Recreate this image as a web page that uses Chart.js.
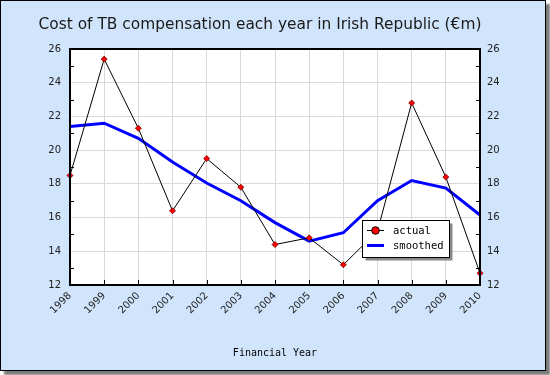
<!DOCTYPE html>
<html>
<head>
<meta charset="utf-8">
<script src="https://cdn.jsdelivr.net/npm/chart.js@4.4.0/dist/chart.umd.min.js"></script>
<style>
    body { margin: 0; background: #ffffff; }
    #frame {
        position: absolute; left: 0; top: 0;
        width: 544px; height: 369px;
        border: 1px solid #000;
        background: #d0e4fc;
        box-shadow: 4px 4px 2px #7a7a7a;
    }
    #wrap { position: absolute; left: 0; top: 0; width: 550px; height: 375px; }
</style>
</head>
<body>
<div id="frame"></div>
<div id="wrap"><canvas id="tbChart" width="550" height="375"></canvas></div>
<script>
// Data
const years = ['1998', '1999', '2000', '2001', '2002', '2003', '2004', '2005', '2006', '2007', '2008', '2009', '2010'];
const actual = [18.5, 25.4, 21.3, 16.4, 19.5, 17.8, 14.4, 14.8, 13.2, 15.2, 22.8, 18.4, 12.7];
const smoothed = [21.4, 21.6, 20.7, 19.3, 18.05, 17.0, 15.7, 14.6, 15.1, 17.0, 18.2, 17.75, 16.15];
const yMin = 12, yMax = 26, yStep = 2;

const titleText = 'Cost of TB compensation each year in Irish Republic (€m)';
const xTitle = 'Financial Year';

// white plot area, border, inner minor ticks, title and the boxed legend
const decorPlugin = {
    id: 'decor',
    beforeDraw(chart) {
        const { ctx, chartArea: a } = chart;
        ctx.save();
        ctx.fillStyle = '#ffffff';
        ctx.fillRect(a.left, a.top, a.right - a.left, a.bottom - a.top);
        ctx.restore();
    },
    beforeDatasetsDraw(chart) {
        const { ctx, chartArea: a, scales } = chart;
        ctx.save();
        ctx.strokeStyle = '#000';
        ctx.lineWidth = 1;
        ctx.beginPath();
        // odd values get small inner ticks on both sides
        for (let v = yMin + 1; v < yMax; v += 2) {
            const y = Math.round(scales.y.getPixelForValue(v)) + 0.5;
            ctx.moveTo(a.left, y); ctx.lineTo(a.left + 4, y);
            ctx.moveTo(a.right - 4, y); ctx.lineTo(a.right, y);
        }
        years.forEach((yr, i) => {
            const x = Math.round(scales.x.getPixelForValue(i)) + 0.5;
            ctx.moveTo(x, a.bottom); ctx.lineTo(x, a.bottom - 5);
        });
        ctx.stroke();
        ctx.restore();
    },
    afterDraw(chart) {
        const { ctx, chartArea: a } = chart;
        ctx.save();
        ctx.strokeStyle = '#000';
        ctx.lineWidth = 2;
        ctx.strokeRect(a.left, a.top, a.right - a.left, a.bottom - a.top);

        ctx.fillStyle = '#1a1a1a';
        ctx.font = '15.4px "DejaVu Sans", Verdana, sans-serif';
        ctx.textAlign = 'center';
        ctx.textBaseline = 'alphabetic';
        ctx.fillText(titleText, 260, 28.5);

        // legend box
        const lx = 362.5, ly = 220.5, lw = 87, lh = 37;
        ctx.fillStyle = '#8a8a8a';
        ctx.fillRect(lx + 3, ly + 3, lw, lh);
        ctx.fillStyle = '#fff';
        ctx.fillRect(lx, ly, lw, lh);
        ctx.lineWidth = 1;
        ctx.strokeStyle = '#000';
        ctx.strokeRect(lx, ly, lw, lh);

        const ds = chart.data.datasets;
        ctx.font = '10.5px "DejaVu Sans Mono", monospace';
        ctx.textAlign = 'left';
        ctx.textBaseline = 'middle';
        // actual
        ctx.beginPath();
        ctx.moveTo(367, 230.5); ctx.lineTo(384, 230.5);
        ctx.stroke();
        ctx.beginPath();
        ctx.arc(375.5, 230.5, 3.8, 0, Math.PI * 2);
        ctx.fillStyle = '#ff0000';
        ctx.fill();
        ctx.stroke();
        ctx.fillStyle = '#000';
        ctx.fillText(ds[0].label, 393, 231);
        // smoothed
        ctx.beginPath();
        ctx.strokeStyle = '#0000ff';
        ctx.lineWidth = 3;
        ctx.moveTo(367, 245.5); ctx.lineTo(384, 245.5);
        ctx.stroke();
        ctx.fillText(ds[1].label, 393, 246);
        ctx.restore();
    }
};

const tickFont = { family: '"DejaVu Sans", Verdana, sans-serif', size: 10 };

new Chart(document.getElementById('tbChart'), {
    type: 'line',
    data: {
        labels: years,
        datasets: [{
            label: 'actual',
            data: actual,
            borderColor: '#000000',
            borderWidth: 1,
            pointStyle: 'rectRot',
            pointRadius: 3,
            pointBackgroundColor: '#ff0000',
            pointBorderColor: '#7a0000',
            pointBorderWidth: 0.8,
            tension: 0,
            order: 1
        }, {
            label: 'smoothed',
            data: smoothed,
            borderColor: '#0000ff',
            borderWidth: 3,
            pointRadius: 0,
            tension: 0,
            order: 2
        }]
    },
    options: {
        responsive: false,
        animation: false,
        layout: { padding: { top: 49, left: 0, right: 0, bottom: 0 } },
        plugins: {
            legend: { display: false },
            title: { display: false },
            tooltip: { enabled: false }
        },
        scales: {
            x: {
                offset: false,
                grid: { color: '#d9d9d9', drawTicks: false },
                border: { display: false },
                ticks: { color: '#222', font: tickFont, minRotation: 45, maxRotation: 45, padding: 5 },
                title: {
                    display: true, text: xTitle, color: '#000',
                    font: { family: '"DejaVu Sans Mono", monospace', size: 10 },
                    padding: { top: 0, bottom: 16 }
                },
                afterFit(scale) { scale.height = 90; }
            },
            y: {
                position: 'left',
                min: yMin, max: yMax,
                grid: { color: '#d9d9d9', drawTicks: false },
                border: { display: false },
                ticks: { stepSize: yStep, color: '#222', font: tickFont, padding: 9 },
                afterFit(scale) { scale.width = 70; }
            },
            y2: {
                position: 'right',
                min: yMin, max: yMax,
                grid: { display: false, drawTicks: false },
                border: { display: false },
                ticks: { stepSize: yStep, color: '#222', font: tickFont, padding: 7 },
                afterFit(scale) { scale.width = 70; }
            }
        }
    },
    plugins: [decorPlugin]
});
</script>
</body>
</html>
